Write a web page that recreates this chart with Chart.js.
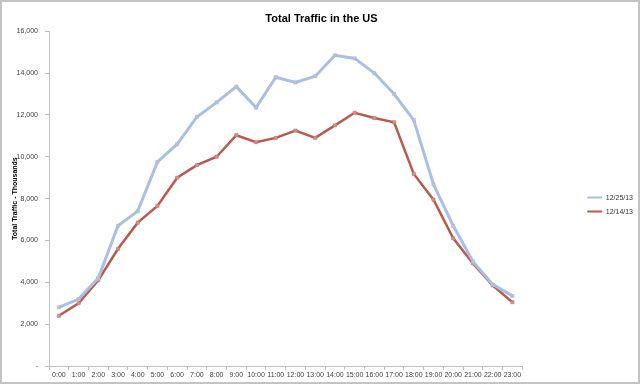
<!DOCTYPE html>
<html>
<head>
<meta charset="utf-8">
<script src="https://cdn.jsdelivr.net/npm/chart.js@4.4.1/dist/chart.umd.min.js"></script>
<style>
  html, body { margin: 0; padding: 0; background: #fff; }
  #wrap { width: 640px; height: 384px; position: relative; }
</style>
</head>
<body>
<div id="wrap"><canvas id="trafficChart" width="640" height="384"></canvas></div>
<script>
const hours = ['0:00','1:00','2:00','3:00','4:00','5:00','6:00','7:00','8:00','9:00','10:00','11:00',
               '12:00','13:00','14:00','15:00','16:00','17:00','18:00','19:00','20:00','21:00','22:00','23:00'];
const christmas = [2800, 3200, 4200, 6700, 7400, 9750, 10600, 11900, 12600, 13350, 12350, 13800,
                   13550, 13850, 14850, 14700, 14000, 13000, 11750, 8680, 6700, 5000, 3900, 3350];
const dec14 = [2400, 3000, 4100, 5600, 6850, 7650, 9000, 9600, 10000, 11030, 10700, 10900,
               11250, 10900, 11500, 12100, 11850, 11650, 9180, 7950, 6100, 4900, 3850, 3050];
const yTicks = [0, 2000, 4000, 6000, 8000, 10000, 12000, 14000, 16000];

const fontFamily = '"Liberation Sans", Arial, sans-serif';

// grey frame around the whole picture, like the excel export
const frame = {
    id: 'frame',
    afterDraw(chart) {
        const c = chart.ctx;
        c.save();
        c.strokeStyle = '#c4c4c4';
        c.lineWidth = 2;
        c.strokeRect(1, 1, chart.width - 2, chart.height - 2);
        c.restore();
    }
};

const ctx = document.getElementById('trafficChart').getContext('2d');
new Chart(ctx, {
    type: 'line',
    data: {
        labels: hours,
        datasets: [
            {
                label: '12/25/13',
                data: christmas,
                borderColor: '#a9bfe8',
                backgroundColor: '#a9bfe8',
                borderWidth: 3,
                pointStyle: 'rect',
                pointRadius: 2.3,
                pointBackgroundColor: '#b9c3d4',
                pointBorderColor: '#aab8d0',
                pointBorderWidth: 0.5,
                tension: 0
            },
            {
                label: '12/14/13',
                data: dec14,
                borderColor: '#b85a4d',
                backgroundColor: '#b85a4d',
                borderWidth: 2.5,
                pointStyle: 'rect',
                pointRadius: 2.3,
                pointBackgroundColor: '#d39086',
                pointBorderColor: '#c07468',
                pointBorderWidth: 0.5,
                tension: 0
            }
        ]
    },
    options: {
        responsive: false,
        animation: false,
        layout: { padding: { left: 0, right: -3, top: 0, bottom: 0 } },
        plugins: {
            title: {
                display: true,
                text: 'Total Traffic in the US',
                color: '#000',
                font: { family: fontFamily, size: 11, weight: 'bold' },
                padding: { top: 12, bottom: 6 }
            },
            legend: {
                position: 'right',
                // blank title only pushes the entries down a little
                title: { display: true, text: ' ', font: { size: 1 }, padding: { top: 12, bottom: 12 } },
                labels: {
                    boxWidth: 15,
                    boxHeight: 2,
                    padding: 7,
                    color: '#333',
                    font: { family: fontFamily, size: 7 },
                    generateLabels: (chart) => {
                        const items = Chart.defaults.plugins.legend.labels.generateLabels(chart);
                        items.forEach(it => { it.lineWidth = 0; });
                        return items;
                    }
                }
            },
            tooltip: { enabled: false }
        },
        scales: {
            x: {
                offset: true,
                afterFit: (scale) => { scale.height = 18; },
                grid: {
                    offset: true,
                    drawOnChartArea: false,
                    tickLength: 4,
                    color: '#bfbfbf'
                },
                border: { color: '#bfbfbf', width: 1 },
                ticks: {
                    color: '#404040',
                    maxRotation: 0,
                    autoSkip: false,
                    padding: 1,
                    font: { family: fontFamily, size: 7 }
                }
            },
            y: {
                min: 0,
                max: 16000,
                afterFit: (scale) => { scale.width = 49; },
                afterBuildTicks: (scale) => { scale.ticks = yTicks.map(v => ({ value: v })); },
                grid: {
                    drawOnChartArea: false,
                    tickLength: 4,
                    color: '#bfbfbf'
                },
                border: { color: '#bfbfbf', width: 1 },
                title: {
                    display: true,
                    text: 'Total Traffic - Thousands',
                    color: '#000',
                    font: { family: fontFamily, size: 7, weight: 'bold' },
                    padding: { top: 11, bottom: 0 }
                },
                ticks: {
                    color: '#404040',
                    padding: 7,
                    font: { family: fontFamily, size: 7 },
                    callback: (v) => v === 0 ? '-' : v.toLocaleString('en-US')
                }
            },
            yRight: {
                position: 'right',
                display: true,
                afterFit: (scale) => { scale.width = 58; },
                grid: { display: false },
                border: { display: false },
                ticks: { display: false }
            }
        }
    },
    plugins: [frame]
});
</script>
</body>
</html>
